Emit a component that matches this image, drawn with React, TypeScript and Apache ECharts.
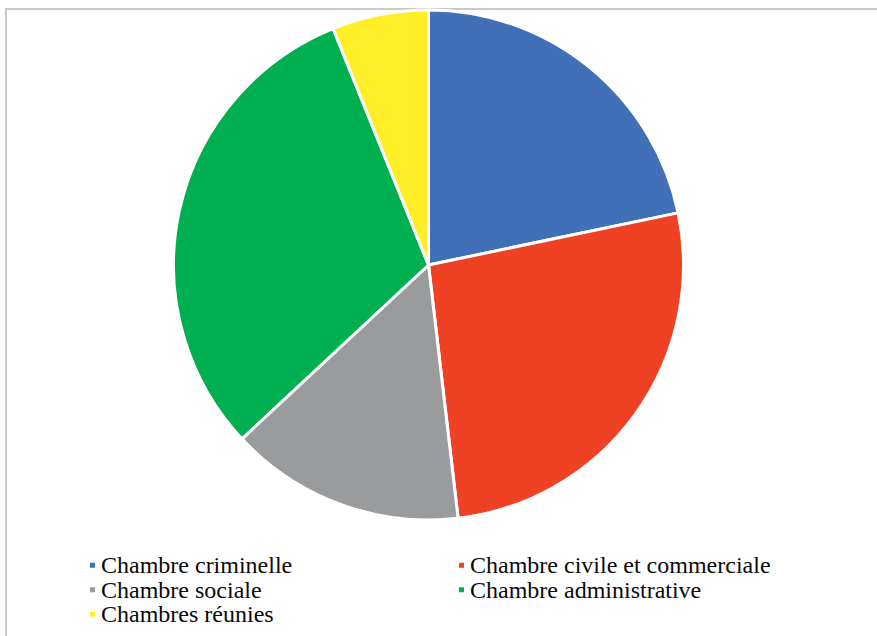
import React, { useEffect, useRef } from "react";
import * as echarts from "echarts";

const categories = [
  "Chambre criminelle",
  "Chambre civile et commerciale",
  "Chambre sociale",
  "Chambre administrative",
  "Chambres réunies",
];
const values = [21.7, 26.4, 14.9, 30.8, 6.1];
const colors = ["#4270B6", "#EF4224", "#9A9B9D", "#00B050", "#FFEE28"];
const legendLeftColumn = ["Chambre criminelle", "Chambre sociale", "Chambres réunies"];
const legendRightColumn = ["Chambre civile et commerciale", "Chambre administrative"];

export default function App() {
  const ref = useRef<HTMLDivElement>(null);
  useEffect(() => {
    if (!ref.current) return;
    const chart = echarts.init(ref.current, null, { renderer: "svg" });
    const textStyle = {
      fontFamily: "Liberation Serif",
      fontSize: 24,
      color: "#0a0a0a",
      lineHeight: 24.5,
    };
    chart.setOption({
      animation: false,
      backgroundColor: "#fff",
      color: colors,
      graphic: [
        {
          type: "rect",
          shape: { x: 6, y: 9, width: 900, height: 700 },
          style: { fill: "none", stroke: "#C9C9C9", lineWidth: 2 },
          silent: true,
        },
      ],
      legend: [
        {
          data: legendLeftColumn,
          orient: "vertical",
          left: 88,
          top: 553,
          itemWidth: 7,
          itemHeight: 7,
          itemGap: 0,
          icon: "rect",
          padding: 0,
          textStyle,
        },
        {
          data: legendRightColumn,
          orient: "vertical",
          left: 457,
          top: 553,
          itemWidth: 7,
          itemHeight: 7,
          itemGap: 0,
          icon: "rect",
          padding: 0,
          textStyle,
        },
      ],
      series: [
        {
          type: "pie",
          center: [428.5, 265],
          radius: 255,
          startAngle: 90,
          clockwise: true,
          label: { show: false },
          labelLine: { show: false },
          emphasis: { disabled: true },
          itemStyle: { borderColor: "#fff", borderWidth: 3 },
          data: categories.map((name, i) => ({ name, value: values[i] })),
        },
      ],
    });
    return () => chart.dispose();
  }, []);
  return (
    <div
      ref={ref}
      style={{ position: "fixed", left: 0, top: 0, width: 877, height: 636 }}
    />
  );
}
